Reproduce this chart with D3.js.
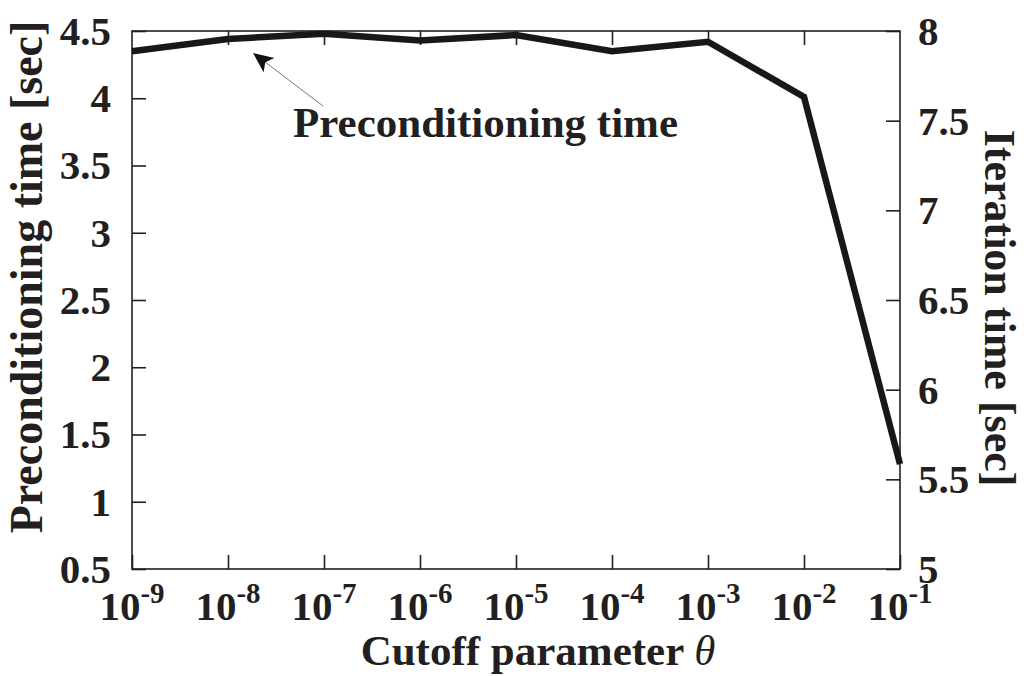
<!DOCTYPE html>
<html>
<head>
<meta charset="utf-8">
<script src="https://cdn.jsdelivr.net/npm/d3@7"></script>
<style>
  html, body { margin: 0; padding: 0; background: #fff; }
  svg { display: block; }
  text { font-family: "Liberation Serif", "Times New Roman", serif; font-weight: bold; fill: #231f20; }
</style>
</head>
<body>
<svg id="chart" width="1027" height="676"></svg>
<script>
// Cutoff parameter θ = 10^exponent
const exponents = [-9, -8, -7, -6, -5, -4, -3, -2, -1];
// Preconditioning time [sec] for each cutoff
const precondTime = [4.35, 4.44, 4.48, 4.43, 4.47, 4.35, 4.42, 4.01, 1.28];
// Axis tick values
const leftTicks = [0.5, 1, 1.5, 2, 2.5, 3, 3.5, 4, 4.5];
const rightTicks = [5, 5.5, 6, 6.5, 7, 7.5, 8];

const svg = d3.select("#chart");
const m = { left: 132, right: 900, top: 31, bottom: 569 };
const ink = "#231f20";

const x = d3.scaleLog().domain([1e-9, 1e-1]).range([m.left, m.right]);
const yL = d3.scaleLinear().domain([0.5, 4.5]).range([m.bottom, m.top]);
const yR = d3.scaleLinear().domain([5, 8]).range([m.bottom, m.top]);

const tickLen = 14;
const xTickVals = exponents.map(e => Math.pow(10, e));

// Frame
svg.append("rect")
  .attr("x", m.left).attr("y", m.top)
  .attr("width", m.right - m.left).attr("height", m.bottom - m.top)
  .attr("fill", "none").attr("stroke", ink).attr("stroke-width", 1.6);

// Bottom axis (ticks inward)
const bottomAxis = d3.axisBottom(x).tickValues(xTickVals).tickSizeInner(-tickLen).tickSizeOuter(0).tickFormat("");
const gB = svg.append("g").attr("transform", `translate(0,${m.bottom})`).call(bottomAxis);
// Top mirror ticks
const topAxis = d3.axisTop(x).tickValues(xTickVals.slice(1, -1)).tickSizeInner(-tickLen).tickSizeOuter(0).tickFormat("");
const gT = svg.append("g").attr("transform", `translate(0,${m.top})`).call(topAxis);
// Left axis
const leftAxis = d3.axisLeft(yL).tickValues(leftTicks).tickSizeInner(-tickLen).tickSizeOuter(0).tickFormat("");
const gL = svg.append("g").attr("transform", `translate(${m.left},0)`).call(leftAxis);
// Right axis
const rightAxis = d3.axisRight(yR).tickValues(rightTicks).tickSizeInner(-tickLen).tickSizeOuter(0).tickFormat("");
const gR = svg.append("g").attr("transform", `translate(${m.right},0)`).call(rightAxis);

[gB, gT, gL, gR].forEach(g => {
  g.select(".domain").remove();
  g.selectAll(".tick line").attr("stroke", ink).attr("stroke-width", 1.6);
});

// Left tick labels
svg.append("g").selectAll("text").data(leftTicks).join("text")
  .attr("x", 111).attr("y", d => yL(d)).attr("dy", "0.34em")
  .attr("text-anchor", "end").attr("font-size", 41)
  .text(d => d);

// Right tick labels
svg.append("g").selectAll("text").data(rightTicks).join("text")
  .attr("x", 918).attr("y", d => yR(d)).attr("dy", "0.34em")
  .attr("text-anchor", "start").attr("font-size", 41)
  .text(d => d);

// Bottom tick labels: 10^e
const xl = svg.append("g").selectAll("text").data(exponents).join("text")
  .attr("x", d => x(Math.pow(10, d))).attr("y", 620)
  .attr("text-anchor", "middle").attr("font-size", 41);
xl.append("tspan").text("10");
xl.append("tspan").attr("font-size", 29).attr("dy", -17).text(d => d);

// Data line
const line = d3.line()
  .x((d, i) => x(Math.pow(10, exponents[i])))
  .y(d => yL(d));
svg.append("path")
  .datum(precondTime)
  .attr("d", line)
  .attr("fill", "none").attr("stroke", "#1a1718")
  .attr("stroke-width", 6.5).attr("stroke-linejoin", "miter");

// Annotation with arrow
const tail = [323, 106], tip = [253, 53];
svg.append("line")
  .attr("x1", tail[0]).attr("y1", tail[1]).attr("x2", tip[0] + 12).attr("y2", tip[1] + 9)
  .attr("stroke", "#777").attr("stroke-width", 1);
{
  const ang = Math.atan2(tail[1] - tip[1], tail[0] - tip[0]);
  const len = 22, half = 0.42;
  const p1 = [tip[0] + len * Math.cos(ang - half), tip[1] + len * Math.sin(ang - half)];
  const p2 = [tip[0] + len * Math.cos(ang + half), tip[1] + len * Math.sin(ang + half)];
  const pc = [tip[0] + len * 0.7 * Math.cos(ang), tip[1] + len * 0.7 * Math.sin(ang)];
  svg.append("path")
    .attr("d", `M${tip}L${p1}L${pc}L${p2}Z`)
    .attr("fill", "#111");
}
svg.append("text")
  .attr("x", 293).attr("y", 137).attr("font-size", 43)
  .text("Preconditioning time");

// Axis titles
svg.append("text")
  .attr("transform", `translate(42,277) rotate(-90)`)
  .attr("text-anchor", "middle").attr("font-size", 46)
  .text("Preconditioning time [sec]");

svg.append("text")
  .attr("transform", `translate(985,308) rotate(90)`)
  .attr("text-anchor", "middle").attr("font-size", 44)
  .text("Iteration time [sec]");

const xt = svg.append("text")
  .attr("x", 538).attr("y", 665)
  .attr("text-anchor", "middle").attr("font-size", 43);
xt.append("tspan").text("Cutoff parameter ");
xt.append("tspan").attr("font-style", "italic").attr("font-weight", "normal").text("θ");
</script>
</body>
</html>
